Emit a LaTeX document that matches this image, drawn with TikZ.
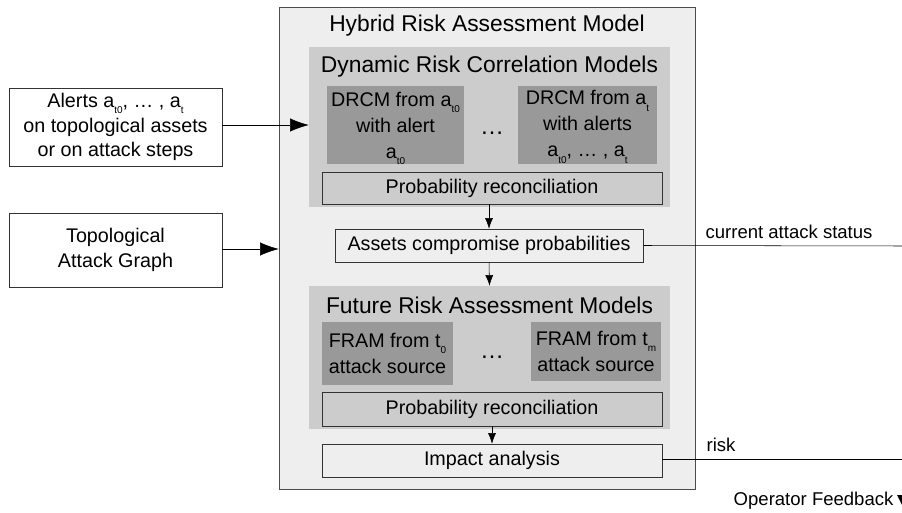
\documentclass[tikz,border=0pt]{standalone}
\usepackage{fontspec}
\setmainfont{Liberation Sans}
\usetikzlibrary{arrows.meta}
\definecolor{outergray}{HTML}{EEEEEE}
\definecolor{panelgray}{HTML}{CCCCCC}
\definecolor{modelgray}{HTML}{999999}
\newcommand{\lowidx}[1]{\smash{\raisebox{-0.6ex}{\fontsize{7.5}{8}\selectfont #1}}}

\begin{document}
\begin{tikzpicture}[x=0.75pt, y=-0.75pt,
    txt/.style={font=\fontsize{14.8}{18.5}\selectfont},
    head/.style={font=\fontsize{17.1}{19}\selectfont},
    lbl/.style={font=\fontsize{13.9}{16}\selectfont},
    size/.style 2 args={minimum width=#1*0.75pt, minimum height=#2*0.75pt},
    panel/.style={fill=panelgray, size={361}{#1}, inner sep=0pt},
    model/.style={fill=modelgray, txt, font=\fontsize{14.8}{19.5}\selectfont, align=center, inner sep=0pt},
    plain/.style={draw=black!80, txt, align=center, inner sep=0pt},
    dots/.style={font=\fontsize{18}{20}\selectfont},
    bigarrow/.style={-{Latex[length=14pt, width=10pt]}},
    smallarrow/.style={-{Latex[length=8pt, width=6pt]}}]
    \useasboundingbox (0,0) rectangle (902,513);

    % Hybrid model frame
    \node[draw=black!70, fill=outergray, size={416}{482}, inner sep=0pt] (hram) at (487,248) {};
    \node[head] (hramtitle) at (487,26) {Hybrid Risk Assessment Model};

    % Dynamic risk correlation models
    \node[panel=160] (drcm) at (489.5,127) {};
    \node[head] (drcmtitle) at (489.5,67) {Dynamic Risk Correlation Models};
    \node[model, size={137}{78}] (drcm1) at (395.5,125)
        {DRCM from a\lowidx{t0}\\with alert\\a\lowidx{t0}};
    \node[model, size={139}{78}] (drcm2) at (587.5,125)
        {DRCM from a\lowidx{t}\\with alerts\\a\lowidx{t0}, \dots\ , a\lowidx{t}};
    \node[dots] (dots1) at (492,133) {\dots};
    \node[plain, fill=panelgray, size={340}{32}] (recon1) at (492,188) {Probability reconciliation};

    % Assets
    \node[plain, fill=outergray, size={308}{33}] (assets) at (489,245.5) {Assets compromise probabilities};

    % Future risk assessment models
    \node[panel=143] (fram) at (489.5,357.5) {};
    \node[head] (framtitle) at (489.5,305) {Future Risk Assessment Models};
    \node[model, size={131}{63}] (fram1) at (387.5,353.5)
        {FRAM from t\lowidx{0}\\attack source};
    \node[model, size={130}{59}] (fram2) at (596,351.5)
        {FRAM from t\lowidx{m}\\attack source};
    \node[dots] (dots2) at (492,357) {\dots};
    \node[plain, fill=panelgray, size={340}{34}] (recon2) at (492,409) {Probability reconciliation};

    % Impact
    \node[plain, fill=outergray, size={340}{33}] (impact) at (492,460.5) {Impact analysis};

    % Inputs
    \node[plain, fill=white, size={213}{78}] (alerts) at (115.5,127)
        {Alerts a\lowidx{t0}, \dots\ , a\lowidx{t}\\on topological assets\\or on attack steps};
    \node[plain, fill=white, size={213}{74}, font=\fontsize{14.8}{19}\selectfont] (topo) at (115.5,250)
        {Topological\\Attack Graph};

    % Outputs
    \coordinate (statusend) at (902,246);
    \coordinate (riskend) at (902,459);
    \node[lbl, anchor=south west, inner sep=1pt] (statuslbl) at (704,240) {current attack status};
    \node[lbl, anchor=south west, inner sep=1pt] (risklbl) at (705,453) {risk};
    \node[lbl, anchor=east, inner sep=1pt] (opfb) at (895,501) {Operator Feedback};

    % Connectors
    \draw[bigarrow] (alerts.east |- 0,125) -- (drcm.west |- 0,125);
    \draw[bigarrow] (topo.east |- 0,249) -- (hram.west |- 0,249);
    \draw[smallarrow] (assets.north |- recon1.south) -- (assets.north);
    \draw[smallarrow] (assets.south) -- (fram.north);
    \draw[smallarrow] (recon2.south) -- (impact.north);
    \draw (assets.east) -- (statusend);
    \draw (impact.east |- riskend) -- (riskend);
    \fill (897,495) -- (909,495) -- (903,507) -- cycle;

\end{tikzpicture}
\end{document}
